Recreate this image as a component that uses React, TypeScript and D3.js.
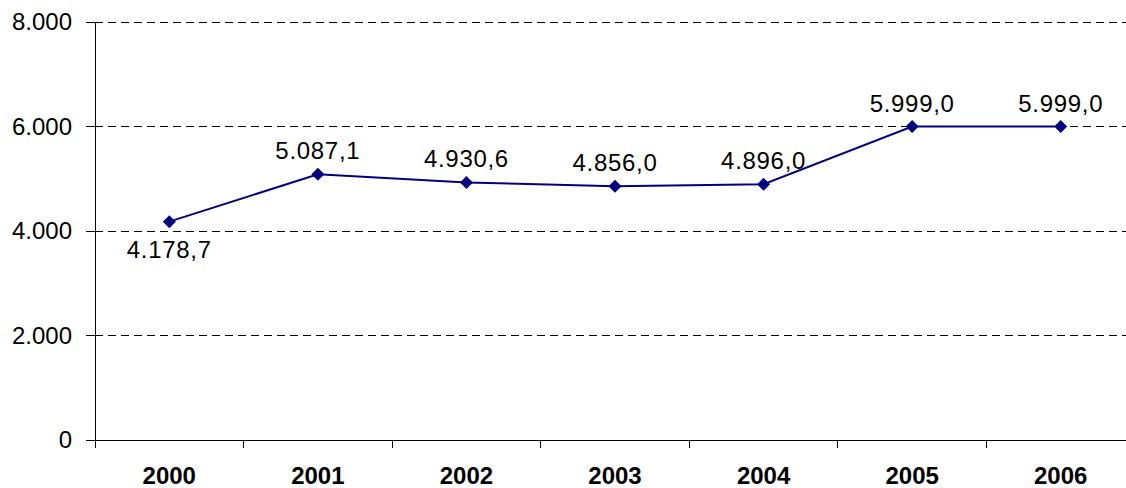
import React from "react";
import * as d3 from "d3";

const years = ["2000", "2001", "2002", "2003", "2004", "2005", "2006"];
const values = [4178.7, 5087.1, 4930.6, 4856.0, 4896.0, 5999.0, 5999.0];
const yTicks = [0, 2000, 4000, 6000, 8000];
const labelBelow = [true, false, false, false, false, false, false];

const fmtTick = (v: number) => d3.format(",.0f")(v).replace(/,/g, ".");
const fmtVal = (v: number) => {
  const s = d3.format(",.1f")(v);
  return s.replace(/,/g, "#").replace(".", ",").replace(/#/g, ".");
};

export default function App() {
  const W = 1126, H = 488;
  const left = 95, right = 1135, top = 22, bottom = 440;
  const x = d3.scaleBand<string>().domain(years).range([left, right]);
  const y = d3.scaleLinear().domain([0, 8000]).range([bottom, top]);
  const cx = (d: string) => (x(d) as number) + x.bandwidth() / 2;
  const line = d3.line<number>().x((_, i) => cx(years[i])).y((v) => y(v));
  const font = "Arial, 'Liberation Sans', sans-serif";
  const boundaries = d3.range(years.length + 1).map((i) => left + i * x.bandwidth());
  return (
    <svg width={W} height={H} style={{ position: "absolute", left: 0, top: 0 }}>
      <rect width={W} height={H} fill="#fff" />
      {yTicks.filter((t) => t > 0).map((t) => (
        <line key={"g" + t} x1={left} x2={right} y1={y(t)} y2={y(t)} stroke="#000" strokeWidth={1} strokeDasharray="8,5" shapeRendering="crispEdges" />
      ))}
      <line x1={left} x2={left} y1={top} y2={bottom} stroke="#000" strokeWidth={1} shapeRendering="crispEdges" />
      <line x1={left} x2={right} y1={bottom} y2={bottom} stroke="#000" strokeWidth={1} shapeRendering="crispEdges" />
      {yTicks.map((t) => (
        <g key={"t" + t}>
          <line x1={left - 9} x2={left} y1={y(t)} y2={y(t)} stroke="#000" shapeRendering="crispEdges" />
          <text x={left - 23} y={y(t)} dy="0.35em" textAnchor="end" fontFamily={font} fontSize={24} fill="#000">{fmtTick(t)}</text>
        </g>
      ))}
      {boundaries.map((b, i) => (
        <line key={"b" + i} x1={b} x2={b} y1={bottom} y2={bottom + 8} stroke="#000" shapeRendering="crispEdges" />
      ))}
      {years.map((yr) => (
        <text key={"x" + yr} x={cx(yr)} y={484} textAnchor="middle" fontFamily={font} fontSize={24} fontWeight="bold" fill="#000">{yr}</text>
      ))}
      <path d={line(values) as string} fill="none" stroke="#000080" strokeWidth={2} />
      {values.map((v, i) => {
        const px = cx(years[i]), py = y(v);
        const r = 6.5;
        return (
          <g key={"p" + i}>
            <path d={`M${px},${py - r}L${px + r},${py}L${px},${py + r}L${px - r},${py}Z`} fill="#000080" />
            <text x={px} y={labelBelow[i] ? py + 36 : py - 15} textAnchor="middle" fontFamily={font} fontSize={24} letterSpacing={0.7} fill="#000">{fmtVal(v)}</text>
          </g>
        );
      })}
    </svg>
  );
}
